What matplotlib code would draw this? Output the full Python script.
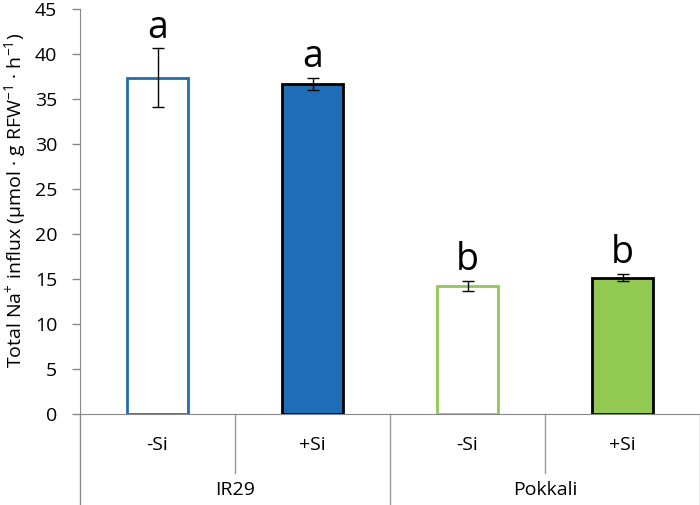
import matplotlib
matplotlib.use("Agg")
import matplotlib.pyplot as plt
from matplotlib.lines import Line2D

plt.rcParams['font.family'] = ['Open Sans', 'DejaVu Sans']
plt.rcParams['mathtext.fontset'] = 'custom'
plt.rcParams['mathtext.rm'] = 'Open Sans'
plt.rcParams['mathtext.it'] = 'Open Sans'

treatments = ['-Si', '+Si', '-Si', '+Si']
cultivars = ['IR29', 'Pokkali']
values = [37.4, 36.7, 14.3, 15.2]
errors = [3.25, 0.65, 0.55, 0.4]
letters = ['a', 'a', 'b', 'b']
yticks = [0, 5, 10, 15, 20, 25, 30, 35, 40, 45]

blue = '#1F6DB6'
green = '#92C953'
faces = ['white', blue, 'white', green]
edges = [blue, 'black', green, 'black']

fig = plt.figure(figsize=(7, 5.05), dpi=100)
ax = fig.add_axes([80/700, (505-414.3)/505, 620/700, 405/505])

x = list(range(len(values)))
ax.bar(x, values, width=0.39, color=faces, edgecolor=edges, linewidth=2, zorder=2)
ax.errorbar(x, values, yerr=errors, fmt='none', ecolor='black', elinewidth=1,
            capsize=4, capthick=1, zorder=3)
for xi, v, e, l in zip(x, values, errors, letters):
    ax.text(xi, v + e + 1.2, l, ha='center', va='baseline', fontsize=27)

ax.set_xlim(-0.5, 3.5)
ax.set_ylim(0, 45)
ax.set_yticks(yticks)
ax.set_yticklabels([str(t) for t in yticks], fontsize=14)
ax.tick_params(axis='y', length=5.5, width=1, color='#888888', pad=11)
ax.set_xticks([])
for s in ['top', 'right']:
    ax.spines[s].set_visible(False)
ax.spines['left'].set_color('#888888')
ax.spines['bottom'].set_color('#888888')
fig.text(2/700, 1 - 200/505, r'Total Na$^{+}$ influx (μmol · g RFW$^{-1}$ · h$^{-1}$)',
         fontsize=14, rotation=90, ha='left', va='center')

trans = ax.get_xaxis_transform()
gray = '#999999'
ax.add_line(Line2D([-0.5, -0.5], [0, -0.224], transform=trans, color='#888888', lw=1, clip_on=False))
for sx in [0.5, 2.5]:
    ax.add_line(Line2D([sx, sx], [0, -0.146], transform=trans, color=gray, lw=1, clip_on=False))
for sx in [1.5, 3.5]:
    ax.add_line(Line2D([sx, sx], [0, -0.224], transform=trans, color=gray, lw=1, clip_on=False))

for xi, t in zip(x, treatments):
    ax.text(xi, -0.077, t, transform=trans, ha='center', va='center', fontsize=14)
for i, c in enumerate(cultivars):
    ax.text(2*i + 0.5, -0.188, c, transform=trans, ha='center', va='center', fontsize=14)

fig.savefig('out.png', dpi=100)
